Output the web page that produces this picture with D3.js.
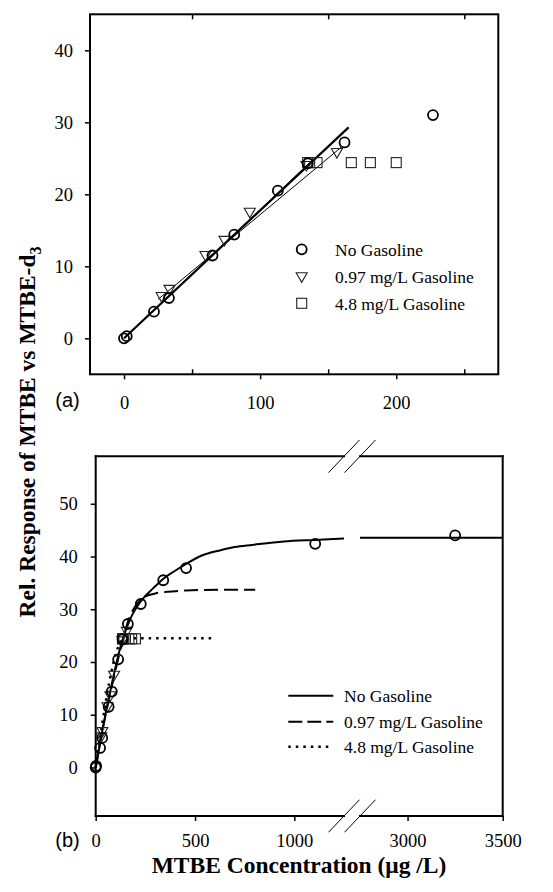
<!DOCTYPE html>
<html><head><meta charset="utf-8">
<script src="https://cdn.jsdelivr.net/npm/d3@7"></script>
<style>body{margin:0;background:#fff}</style>
</head><body>
<svg id="c" width="553" height="892"></svg>
<script>
// ---------------- data ----------------
const seriesNames = ["No Gasoline", "0.97 mg/L Gasoline", "4.8 mg/L Gasoline"];
// measured points
const noGasX  = [0, 2, 22, 33, 65, 81, 113, 135, 162, 227, 340, 455, 1105, 3250];
const noGasY  = [0, 0.3, 3.7, 5.6, 11.5, 14.4, 20.5, 24.3, 27.2, 31.0, 35.5, 37.8, 42.4, 44.0];
const gas097X = [27.6, 33.4, 59.8, 73.8, 92.4, 134, 156.4];
const gas097Y = [5.8, 6.8, 11.5, 13.6, 17.5, 24.0, 25.8];
const gas48X  = [134.9, 136.4, 141.8, 167, 181, 200];
const gas48Y  = [24.4, 24.4, 24.4, 24.4, 24.4, 24.4];
// panel (a) fitted lines
const fitANoGasX = [0, 165],  fitANoGasY = [0, 29.3];
const fitA097X   = [25, 160], fitA097Y   = [5.4, 26.6];
const fitA48X    = [0, 137],  fitA48Y    = [0, 24.5];
// panel (b) fitted curves
const curveNoGasX = [0, 30, 82, 130, 177, 225, 290, 341, 400, 455, 534, 629, 700, 788, 946, 1100, 1250, 2750, 3500];
const curveNoGasY = [0, 6.3, 16.0, 23.6, 28.4, 31.4, 34.0, 35.8, 37.3, 38.6, 40.2, 41.2, 41.8, 42.2, 42.85, 43.15, 43.4, 43.55, 43.55];
const curve097X = [0, 30, 60, 92, 130, 160, 200, 240, 300, 360, 455, 629, 803];
const curve097Y = [0, 6.3, 11.8, 17.2, 23.2, 27.4, 30.6, 32.2, 33.0, 33.3, 33.55, 33.7, 33.7];
const curve48X = [0, 136, 165, 605];
const curve48Y = [0, 24.2, 24.5, 24.5];
// ticks
const xTicksA = [0, 100, 200];
const xMinorA = [50, 150, 250];
const yTicksA = [0, 10, 20, 30, 40];
const xTicksB1 = [0, 500, 1000];
const xTicksB2 = [3000, 3500];
const yTicksB = [0, 10, 20, 30, 40, 50];

// ---------------- setup ----------------
const svg = d3.select("#c");
const serif = "'Liberation Serif','Times New Roman',serif";
const sans = "'Liberation Sans',Arial,sans-serif";
const zip = (xs, ys) => xs.map((x, i) => [x, ys[i]]);
const fmt = d3.format("d");

const xa = d3.scaleLinear().domain([-25, 275]).range([90, 498.3]);
const ya = d3.scaleLinear().domain([-5, 45]).range([374.3, 14.3]);
const brk1 = 1250, brk2 = 2750;
const xb1 = d3.scaleLinear().domain([0, brk1]).range([95.7, 344]);
const xb2 = d3.scaleLinear().domain([brk2, 3500]).range([360, 502.7]);
const xb = v => v <= brk1 ? xb1(v) : xb2(v);
const yb = d3.scaleLinear().domain([-9.2, 59]).range([816, 456.3]);

function marker(g, type, x, y) {
  if (type === 0) {
    g.append("circle").attr("cx", x).attr("cy", y).attr("r", 5)
      .attr("fill", "none").attr("stroke", "#000").attr("stroke-width", 1.8);
  } else if (type === 1) {
    g.append("path").attr("d", `M${x-5.5},${y-4}L${x+5.5},${y-4}L${x},${y+5.5}Z`)
      .attr("fill", "none").attr("stroke", "#222").attr("stroke-width", 1.1);
  } else {
    g.append("rect").attr("x", x-5).attr("y", y-5).attr("width", 10).attr("height", 10)
      .attr("fill", "none").attr("stroke", "#222").attr("stroke-width", 1.1);
  }
}
function styleAxis(g, size) {
  g.select(".domain").remove();
  g.selectAll("line").attr("stroke", "#000").attr("stroke-width", 1.5);
  g.selectAll("text").attr("font-family", serif).attr("font-size", size).attr("fill", "#000");
}

// ================= PANEL (a) =================
const ga = svg.append("g");
ga.append("g").attr("transform", `translate(${xa(-25)},0)`)
  .call(d3.axisLeft(ya).tickValues(yTicksA).tickFormat(fmt).tickSize(5).tickPadding(12).tickSizeOuter(0))
  .call(g => styleAxis(g, 18.5));
ga.append("g").attr("transform", `translate(0,${ya(-5)})`)
  .call(d3.axisBottom(xa).tickValues(xTicksA).tickFormat(fmt).tickSize(5).tickPadding(17).tickSizeOuter(0))
  .call(g => styleAxis(g, 18.5));
ga.append("g").attr("transform", `translate(0,${ya(-5)})`)
  .call(d3.axisBottom(xa).tickValues(xMinorA).tickSize(-5).tickFormat("").tickSizeOuter(0))
  .call(g => styleAxis(g, 18.5));
ga.append("g").attr("transform", `translate(0,${ya(45)})`)
  .call(d3.axisTop(xa).tickValues(xMinorA).tickSize(-5).tickFormat("").tickSizeOuter(0))
  .call(g => styleAxis(g, 18.5));
ga.append("rect").attr("x", xa(-25)).attr("y", ya(45))
  .attr("width", xa(275) - xa(-25)).attr("height", ya(-5) - ya(45))
  .attr("fill", "none").attr("stroke", "#000").attr("stroke-width", 2);

const lineA = d3.line().x(d => xa(d[0])).y(d => ya(d[1]));
ga.append("path").attr("d", lineA(zip(fitA48X, fitA48Y))).attr("fill", "none").attr("stroke", "#000").attr("stroke-width", 1);
ga.append("path").attr("d", lineA(zip(fitA097X, fitA097Y))).attr("fill", "none").attr("stroke", "#000").attr("stroke-width", 1);
ga.append("path").attr("d", lineA(zip(fitANoGasX, fitANoGasY))).attr("fill", "none").attr("stroke", "#000").attr("stroke-width", 2.2);

const inA = d => d[0] <= 275;
zip(gas48X, gas48Y).filter(inA).forEach(d => marker(ga, 2, xa(d[0]), ya(d[1])));
zip(gas097X, gas097Y).filter(inA).forEach(d => marker(ga, 1, xa(d[0]), ya(d[1])));
zip(noGasX, noGasY).filter(inA).forEach(d => marker(ga, 0, xa(d[0]), ya(d[1])));

const legAy = [249.3, 276.8, 303.3];
seriesNames.forEach((s, i) => {
  marker(ga, i, 301.7, legAy[i]);
  ga.append("text").attr("x", 335).attr("y", legAy[i] + 6.5)
    .attr("font-family", serif).attr("font-size", 17.5).text(s);
});
ga.append("text").attr("x", 67.5).attr("y", 407).attr("text-anchor", "middle")
  .attr("font-family", sans).attr("font-size", 20).text("(a)");

// ================= PANEL (b) =================
const gb = svg.append("g");
gb.append("g").attr("transform", `translate(${xb1(0)},0)`)
  .call(d3.axisLeft(yb).tickValues(yTicksB).tickFormat(fmt).tickSize(5).tickPadding(13).tickSizeOuter(0))
  .call(g => styleAxis(g, 18.5));
gb.append("g").attr("transform", "translate(0,816)")
  .call(d3.axisBottom(xb1).tickValues(xTicksB1).tickFormat(fmt).tickSize(5).tickPadding(12.5).tickSizeOuter(0))
  .call(g => styleAxis(g, 18.5));
gb.append("g").attr("transform", "translate(0,816)")
  .call(d3.axisBottom(xb2).tickValues(xTicksB2).tickFormat(fmt).tickSize(5).tickPadding(12.5).tickSizeOuter(0))
  .call(g => styleAxis(g, 18.5));

const fL = xb1(0), fR = xb2(3500), fT = yb(59), fB = yb(-9.2), b1 = xb1(brk1), b2 = xb2(brk2);
[[fL, fT, fL, fB], [fR, fT, fR, fB], [fL, fT, b1, fT], [b2, fT, fR, fT], [fL, fB, b1, fB], [b2, fB, fR, fB]]
  .forEach(l => gb.append("line").attr("x1", l[0]).attr("y1", l[1]).attr("x2", l[2]).attr("y2", l[3])
    .attr("stroke", "#000").attr("stroke-width", 2).attr("stroke-linecap", "square"));
[fT, fB].forEach(y => [b1, b2].forEach(x => {
  gb.append("line").attr("x1", x - 15.5).attr("y1", y + 16.3).attr("x2", x + 15.5).attr("y2", y - 16.3)
    .attr("stroke", "#000").attr("stroke-width", 1);
}));

const lineB = d3.line().curve(d3.curveMonotoneX).x(d => xb(d[0])).y(d => yb(d[1]));
function drawCurve(xs, ys, dash, w) {
  const pts = zip(xs, ys);
  [pts.filter(d => d[0] <= brk1), pts.filter(d => d[0] >= brk2)].forEach(seg => {
    if (seg.length < 2) return;
    gb.append("path").attr("d", lineB(seg)).attr("fill", "none").attr("stroke", "#000")
      .attr("stroke-width", w).attr("stroke-dasharray", dash);
  });
}
drawCurve(curve48X, curve48Y, "2.5,5", 2.5);
drawCurve(curve097X, curve097Y, "14,6", 2);
drawCurve(curveNoGasX, curveNoGasY, null, 2);

zip(gas48X, gas48Y).forEach(d => marker(gb, 2, xb(d[0]), yb(d[1])));
zip(gas097X, gas097Y).forEach(d => marker(gb, 1, xb(d[0]), yb(d[1])));
zip(noGasX, noGasY).forEach(d => marker(gb, 0, xb(d[0]), yb(d[1])));

const legBy = [695.7, 721.7, 746.7];
const legDash = [null, "14,5", "2.5,5"];
const legW = [2, 2, 2.5];
seriesNames.forEach((s, i) => {
  gb.append("line").attr("x1", 288.3).attr("x2", 333.3).attr("y1", legBy[i]).attr("y2", legBy[i])
    .attr("stroke", "#000").attr("stroke-width", legW[i]).attr("stroke-dasharray", legDash[i]);
  gb.append("text").attr("x", 344).attr("y", legBy[i] + 6)
    .attr("font-family", serif).attr("font-size", 17.5).text(s);
});
gb.append("text").attr("x", 67.5).attr("y", 847).attr("text-anchor", "middle")
  .attr("font-family", sans).attr("font-size", 20).text("(b)");

// ================= titles =================
const yt = svg.append("text").attr("transform", "translate(35,432) rotate(-90)")
  .attr("text-anchor", "middle").attr("font-family", serif).attr("font-weight", "bold").attr("font-size", 23.5);
yt.append("tspan").text("Rel. Response of MTBE vs MTBE-d");
yt.append("tspan").attr("font-size", 16).attr("dy", 6).text("3");
svg.append("text").attr("x", 299).attr("y", 873).attr("text-anchor", "middle")
  .attr("font-family", serif).attr("font-weight", "bold").attr("font-size", 23.5)
  .text("MTBE Concentration (\u03BCg /L)");
</script>
</body></html>
